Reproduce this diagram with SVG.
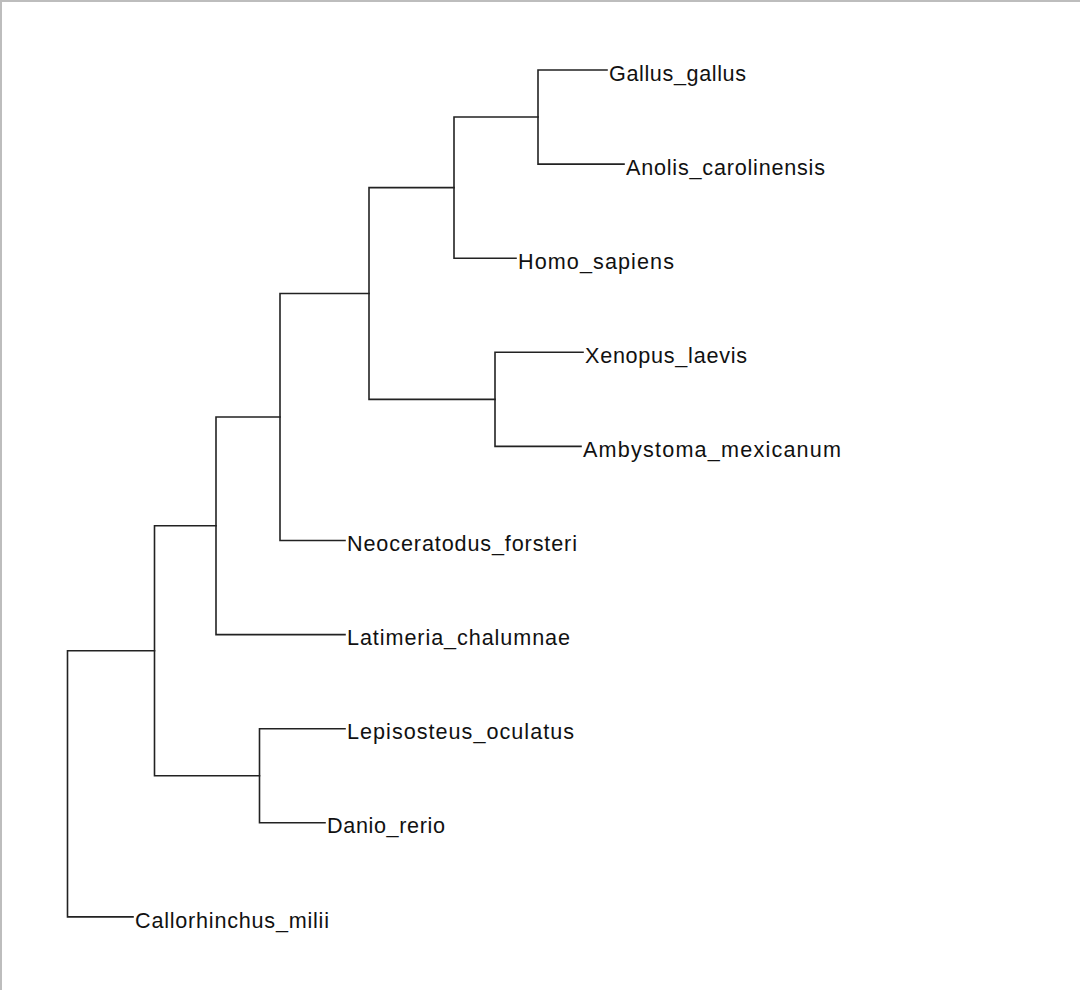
<svg xmlns="http://www.w3.org/2000/svg" width="1080" height="990" viewBox="0 0 1080 990">
<style>
.br{fill:none;stroke:#222222;stroke-width:1.6;stroke-linejoin:miter;stroke-linecap:square}
.lb{font-family:"Liberation Sans",Arial,sans-serif;font-size:21.6px;fill:#111}
</style>
<rect x="0" y="0" width="1080" height="990" fill="#ffffff"/>
<path d="M1 990 V1 H1080" fill="none" stroke="#bdbdbd" stroke-width="2"/>
<g id="connectors">
<path class="br" d="M607 70 H538 V164.1 H624"/>
<path class="br" d="M538 117.05 H454 V258.2 H516"/>
<path class="br" d="M583 352.3 H495 V446.4 H581"/>
<path class="br" d="M454 187.6 H369 V399.35 H495"/>
<path class="br" d="M369 293.5 H280 V540.5 H345"/>
<path class="br" d="M280 417 H216 V634.6 H345"/>
<path class="br" d="M345 728.7 H259.5 V822.8 H325"/>
<path class="br" d="M216 525.8 H154.5 V775.75 H259.5"/>
<path class="br" d="M154.5 650.8 H67.5 V916.9 H133"/>
</g>
<g id="Gallus_gallus"><text class="lb" x="609" y="80.6" textLength="137" lengthAdjust="spacing">Gallus_gallus</text></g>
<g id="Anolis_carolinensis"><text class="lb" x="626" y="174.7" textLength="199" lengthAdjust="spacing">Anolis_carolinensis</text></g>
<g id="Homo_sapiens"><text class="lb" x="518" y="268.8" textLength="156" lengthAdjust="spacing">Homo_sapiens</text></g>
<g id="Xenopus_laevis"><text class="lb" x="585" y="362.9" textLength="162" lengthAdjust="spacing">Xenopus_laevis</text></g>
<g id="Ambystoma_mexicanum"><text class="lb" x="583" y="457" textLength="258" lengthAdjust="spacing">Ambystoma_mexicanum</text></g>
<g id="Neoceratodus_forsteri"><text class="lb" x="347" y="551.1" textLength="230" lengthAdjust="spacing">Neoceratodus_forsteri</text></g>
<g id="Latimeria_chalumnae"><text class="lb" x="347" y="645.2" textLength="223" lengthAdjust="spacing">Latimeria_chalumnae</text></g>
<g id="Lepisosteus_oculatus"><text class="lb" x="347" y="739.3" textLength="227" lengthAdjust="spacing">Lepisosteus_oculatus</text></g>
<g id="Danio_rerio"><text class="lb" x="327" y="833.4" textLength="118" lengthAdjust="spacing">Danio_rerio</text></g>
<g id="Callorhinchus_milii"><text class="lb" x="135" y="927.5" textLength="194" lengthAdjust="spacing">Callorhinchus_milii</text></g>
</svg>
